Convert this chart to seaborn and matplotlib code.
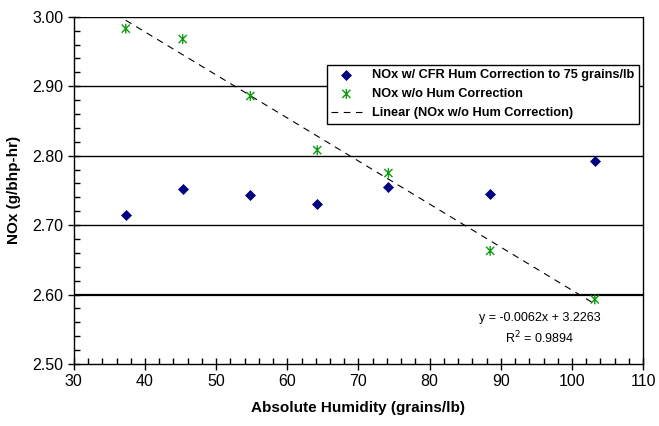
import numpy as np
import pandas as pd
import seaborn as sns
import matplotlib.pyplot as plt
from matplotlib.path import Path
from matplotlib.ticker import MultipleLocator

humidity = [37.3, 45.3, 54.8, 64.2, 74.2, 88.5, 103.2]
nox_corrected = [2.715, 2.752, 2.744, 2.731, 2.755, 2.745, 2.793]
nox_uncorrected = [2.983, 2.968, 2.886, 2.808, 2.775, 2.663, 2.593]
fit_slope = -0.0062
fit_intercept = 3.2263
fit_r2 = 0.9894

label_corr = 'NOx w/ CFR Hum Correction to 75 grains/lb'
label_unc = 'NOx w/o Hum Correction'
label_fit = 'Linear (NOx w/o Hum Correction)'

sns.set_style('white')
plt.rcParams['font.family'] = ['Liberation Sans', 'DejaVu Sans']
plt.rcParams['text.color'] = 'black'
plt.rcParams['axes.labelcolor'] = 'black'
plt.rcParams['xtick.color'] = 'black'
plt.rcParams['ytick.color'] = 'black'

df = pd.DataFrame({'hum': humidity, 'corr': nox_corrected, 'unc': nox_uncorrected})
fit_x = np.array([min(humidity), max(humidity)])
fit_df = pd.DataFrame({'hum': fit_x, 'fit': fit_slope * fit_x + fit_intercept})

# excel style asterisk: an X plus a vertical bar
star = Path([(-1, -1), (1, 1), (-1, 1), (1, -1), (0, -1.2), (0, 1.2)],
            [Path.MOVETO, Path.LINETO, Path.MOVETO, Path.LINETO, Path.MOVETO, Path.LINETO])

fig = plt.figure(figsize=(6.59, 4.26), dpi=100)
ax = fig.add_axes([0.112, 0.1455, 0.864, 0.815])

for y in [2.6, 2.7, 2.8, 2.9, 3.0]:
    ax.axhline(y, color='black', lw=1.6 if y == 2.6 else 1.0, zorder=0)

sns.scatterplot(data=df, x='hum', y='corr', marker='D', s=26, color='#000080',
                edgecolor='#000080', linewidth=0.5, label=label_corr, ax=ax, zorder=3)
sns.scatterplot(data=df, x='hum', y='unc', marker=star, s=50, color='#109a10',
                edgecolor='#109a10', facecolor='none', linewidth=1.0,
                label=label_unc, ax=ax, zorder=3)
sns.lineplot(data=fit_df, x='hum', y='fit', color='black', lw=0.8,
             label=label_fit, ax=ax, zorder=2)
ax.lines[-1].set_dashes((6, 5))

ax.set_xlim(30, 110)
ax.set_ylim(2.5, 3.0)
ax.xaxis.set_major_locator(MultipleLocator(10))
ax.xaxis.set_minor_locator(MultipleLocator(2))
ax.yaxis.set_major_locator(MultipleLocator(0.1))
ax.yaxis.set_minor_locator(MultipleLocator(0.02))
ax.yaxis.set_major_formatter(plt.FuncFormatter(lambda v, p: f'{v:.2f}'))
ax.tick_params(which='major', direction='inout', length=8, width=1, labelsize=11.5, color='black')
ax.tick_params(which='minor', direction='in', length=4, width=1, color='black')
ax.tick_params(axis='x', which='both', bottom=True)
ax.tick_params(axis='y', which='both', left=True)
for sp in ax.spines.values():
    sp.set_color('black')
    sp.set_linewidth(1.0)
ax.spines['top'].set_visible(False)

ax.set_xlabel('Absolute Humidity (grains/lb)', fontsize=11, fontweight='bold', labelpad=8)
ax.set_ylabel('NOx (g/bhp-hr)', fontsize=11, fontweight='bold', labelpad=8)

ax.text(95.5, 2.566, f'y = {fit_slope}x + {fit_intercept}', fontsize=9, ha='center', va='center')
ax.text(95.5, 2.537, f'R$^2$ = {fit_r2}', fontsize=9, ha='center', va='center')

leg = ax.legend(loc='upper right', bbox_to_anchor=(0.992, 0.862), borderaxespad=0,
                frameon=True, fancybox=False, edgecolor='black', framealpha=1,
                prop={'weight': 'bold', 'size': 9.2},
                handlelength=2.4, borderpad=0.35, labelspacing=0.55)
leg.get_frame().set_linewidth(1.0)
leg.get_lines()[-1].set_dashes((6, 5))

fig.savefig('out.png', dpi=100)
